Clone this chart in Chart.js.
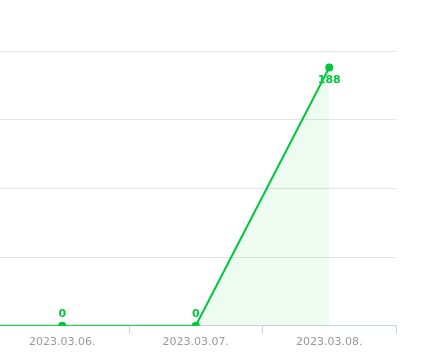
<!DOCTYPE html>
<html>
<head>
<meta charset="utf-8">
<script src="https://cdn.jsdelivr.net/npm/chart.js@4"></script>
<style>
  html, body { margin: 0; padding: 0; background: #fff; }
  #wrap { position: relative; width: 427px; height: 363px; overflow: hidden; }
  #chart { position: absolute; left: -142px; top: 0; }
</style>
</head>
<body>
<div id="wrap"><canvas id="chart" width="569" height="363"></canvas></div>
<script>
// Chart data
const dates = ["2023.03.05.", "2023.03.06.", "2023.03.07.", "2023.03.08."];
const counts = [0, 0, 0, 188];
const yTicks = [0, 50, 100, 150, 200];

const green = "#00c73c";

// Draw value labels above (or below near the top) each point
const valueLabels = {
  id: "valueLabels",
  afterDatasetsDraw(chart) {
    const ctx = chart.ctx;
    const meta = chart.getDatasetMeta(0);
    ctx.save();
    ctx.font = "bold 11px 'DejaVu Sans'";
    ctx.fillStyle = green;
    ctx.textAlign = "center";
    ctx.textBaseline = "middle";
    meta.data.forEach((pt, i) => {
      const below = pt.y - chart.chartArea.top < 30;
      ctx.fillText(String(counts[i]), pt.x, below ? pt.y + 13 : pt.y - 12);
    });
    ctx.restore();
  },
};

Chart.defaults.font.family = "'DejaVu Sans', sans-serif";

new Chart(document.getElementById("chart"), {
  type: "line",
  data: {
    labels: dates,
    datasets: [
      {
        data: counts,
        borderColor: green,
        borderWidth: 2,
        backgroundColor: "rgba(0, 199, 60, 0.07)",
        fill: "origin",
        tension: 0,
        pointRadius: 4,
        pointBackgroundColor: green,
        pointBorderWidth: 0,
      },
    ],
  },
  options: {
    responsive: false,
    animation: false,
    layout: { padding: { top: 51, right: 31, left: 0, bottom: 12 } },
    plugins: { legend: { display: false }, tooltip: { enabled: false } },
    scales: {
      x: {
        offset: true,
        grid: {
          offset: true,
          drawOnChartArea: false,
          tickLength: 8,
          color: "#c9d3e3",
        },
        border: { color: "#c9d3e3" },
        ticks: { color: "#999", font: { size: 11 }, padding: 2 },
      },
      y: {
        min: 0,
        max: 200,
        afterBuildTicks: (scale) => {
          scale.ticks = yTicks.map((v) => ({ value: v }));
        },
        grid: { color: "#e5e5e5", drawTicks: false },
        border: { display: false },
        ticks: { display: false },
      },
    },
  },
  plugins: [valueLabels],
});
</script>
</body>
</html>
